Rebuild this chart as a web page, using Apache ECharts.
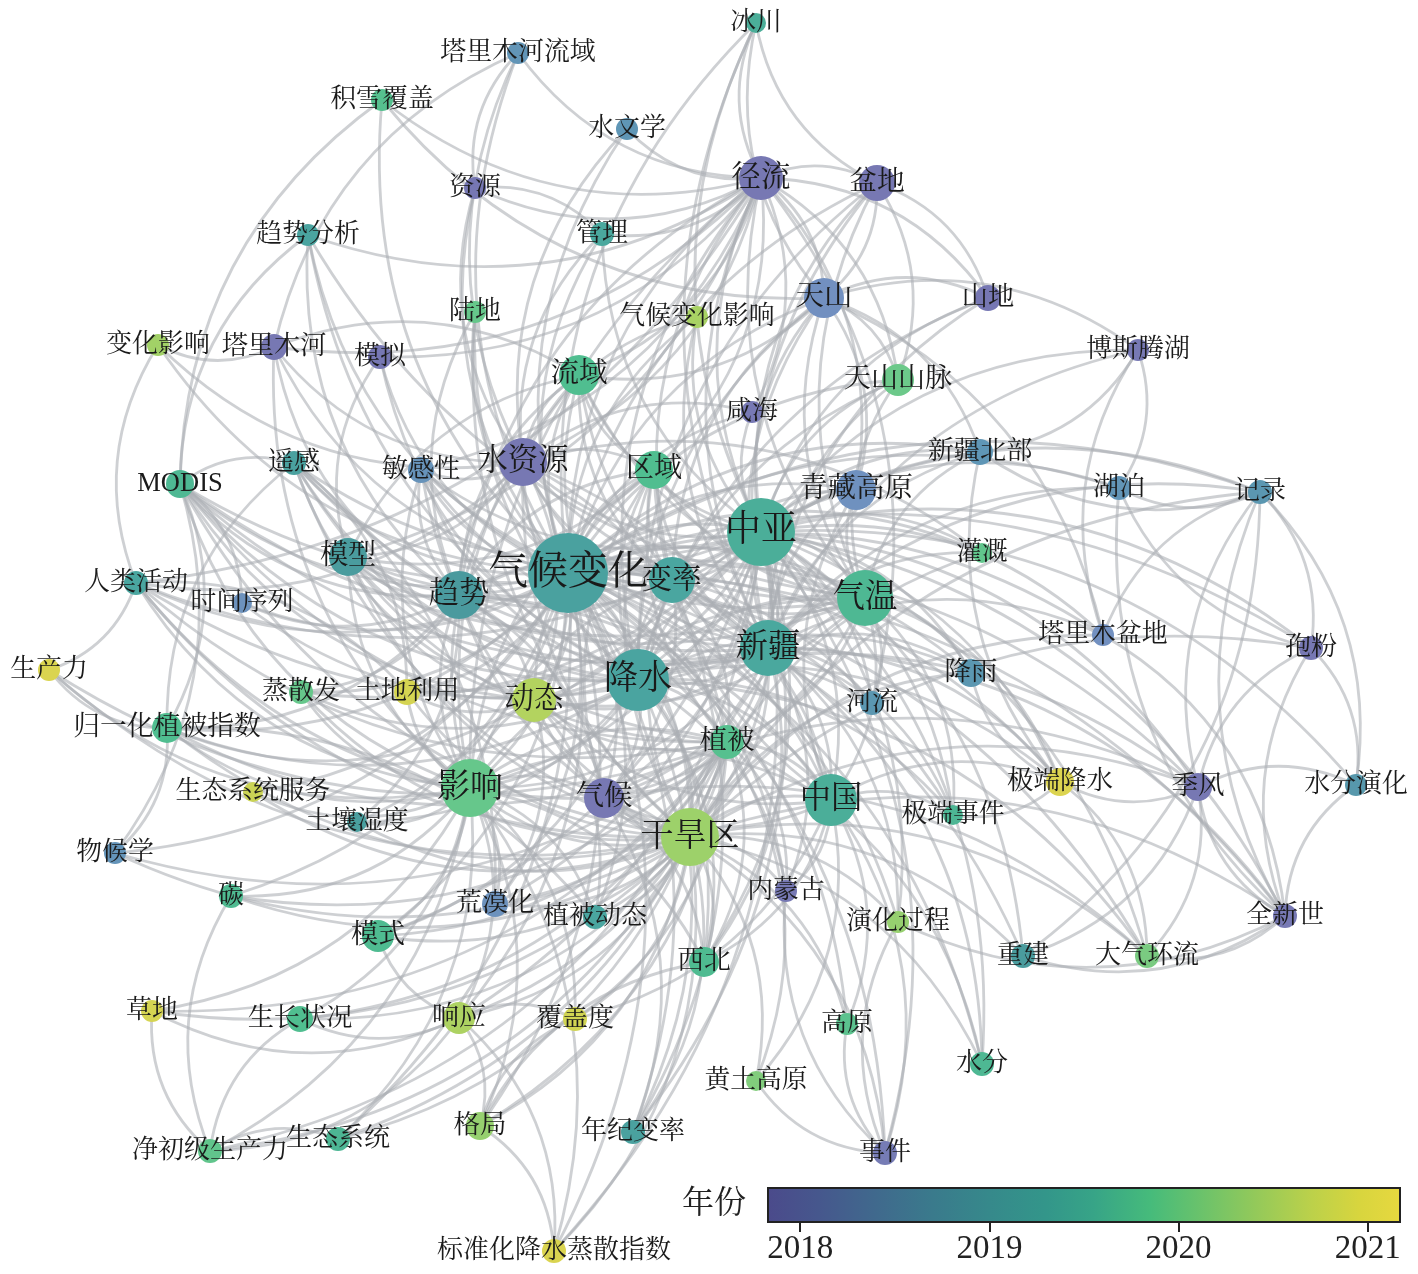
<!DOCTYPE html>
<html><head><meta charset="utf-8">
<script src="https://cdn.jsdelivr.net/npm/echarts@6.0.0/dist/echarts.min.js"></script>
<style>html,body{margin:0;padding:0;background:#fff}#c{width:1418px;height:1274px}</style>
</head><body><div id="c"></div>
<script>
// ---------------- data ----------------
const nodeNames = ['冰川','塔里木河流域','积雪覆盖','水文学','径流','盆地','资源','管理','趋势分析','天山',
 '山地','陆地','气候变化影响','变化影响','塔里木河','模拟','博斯腾湖','流域','天山山脉','咸海',
 '新疆北部','水资源','区域','遥感','敏感性','MODIS','湖泊','记录','青藏高原','中亚',
 '灌溉','模型','气候变化','变率','人类活动','时间序列','趋势','气温','生产力','新疆',
 '塔里木盆地','孢粉','降雨','蒸散发','土地利用','动态','降水','河流','归一化植被指数','植被',
 '影响','生态系统服务','气候','中国','极端降水','季风','水分演化','极端事件','土壤湿度','物候学',
 '干旱区','内蒙古','碳','荒漠化','植被动态','全新世','模式','演化过程','西北','重建',
 '大气环流','草地','生长状况','响应','覆盖度','高原','水分','黄土高原','格局','净初级生产力',
 '生态系统','年纪变率','事件','标准化降水蒸散指数'];
// average year of appearance
const nodeYear = [2019.45,2018.7,2019.8,2018.75,2017.95,2017.95,2017.9,2019.3,2019.2,2018.4,
 2017.9,2019.95,2020.45,2020.4,2017.95,2017.9,2018.0,2019.75,2020.0,2018.0,
 2018.75,2017.95,2019.75,2019.15,2018.6,2019.65,2018.7,2018.8,2018.45,2019.45,
 2019.9,2019.05,2019.15,2019.25,2019.25,2018.5,2019.0,2019.65,2020.95,2019.3,
 2018.4,2017.95,2018.8,2019.95,2020.9,2020.55,2019.2,2018.8,2019.75,2019.8,
 2019.95,2020.8,2017.95,2019.45,2021.0,2017.95,2018.85,2019.6,2019.1,2018.65,
 2020.35,2018.0,2019.7,2018.5,2019.25,2018.0,2019.7,2020.3,2019.7,2019.05,
 2020.1,2020.9,2019.75,2020.5,2020.85,2019.85,2019.65,2020.15,2020.3,2019.9,
 2019.6,2019.15,2018.05,2020.95];
// relative weight (frequency) of each keyword
const nodeWeight = [10,11,11,11,22,18,11,12,11,20,
 13,11,11,11,13,12,11,20,16,11,
 13,24,19,12,13,14,12,12,20,34,
 10,19,40,23,12,10,24,28,11,28,
 11,12,14,12,13,22,31,12,15,17,
 29,10,20,26,14,14,11,10,10,11,
 29,11,12,13,12,12,16,11,15,12,
 12,11,13,16,12,11,12,10,14,12,
 12,12,12,12];
// network layout coordinates (layout space 1418 x 1274)
const layoutX = [756,518,382,627,761,877,475,602,308,824,
 988,475,697,158,274,380,1138,579,898,752,
 980,523,654,294,421,180,1119,1260,856,761,
 982,348,568,672,136,242,459,865,49,768,
 1103,1311,971,301,407,534,638,872,167,727,
 470,253,604,831,1060,1198,1356,953,357,115,
 690,786,231,495,595,1285,378,898,704,1023,
 1147,152,300,459,575,847,982,756,480,210,
 338,633,885,554];
const layoutY = [23,53,100,129,178,183,188,234,235,298,
 298,312,317,345,347,357,350,375,380,412,
 452,462,470,463,470,484,488,492,490,532,
 553,557,573,580,583,603,595,598,670,648,
 635,648,673,692,692,700,680,703,728,742,
 788,792,798,800,782,787,785,815,822,853,
 837,891,896,904,917,916,936,922,962,956,
 956,1011,1019,1018,1019,1024,1064,1081,1126,1151,
 1139,1132,1153,1251];
// co-occurrence links: first name linked with each following name
const adjacency = [
 '气候变化 中亚 新疆 降水 干旱区 影响 趋势 气温 变率 水资源 径流 区域 流域 模型 动态 植被 中国 气候 天山 青藏高原 盆地 敏感性 遥感 MODIS 人类活动 时间序列 模拟 陆地 资源 管理 水文学 塔里木河 塔里木河流域 变化影响 冰川 积雪覆盖 趋势分析 气候变化影响 咸海 天山山脉 新疆北部 湖泊 记录 灌溉 河流 降雨 塔里木盆地 孢粉 季风 全新世 极端降水 极端事件 土地利用 蒸散发 土壤湿度 归一化植被指数 生态系统服务 物候学 荒漠化 植被动态 模式 西北 内蒙古 生态系统 年纪变率 高原 事件 大气环流 重建 演化过程 水分 标准化降水蒸散指数 响应 格局 碳',
 '中亚 新疆 降水 干旱区 气温 影响 趋势 变率 水资源 径流 区域 天山 青藏高原 盆地 气候 中国 植被 动态 咸海 灌溉 湖泊 记录 孢粉 季风 全新世 大气环流 重建 极端降水 极端事件 降雨 河流 塔里木盆地 新疆北部 山地 天山山脉 冰川 气候变化影响 管理 敏感性 模型 遥感 MODIS 荒漠化 模式 演化过程 事件 水分 年纪变率 标准化降水蒸散指数 响应 西北 水分演化 博斯腾湖 流域 人类活动 土地利用 蒸散发',
 '新疆 降水 气温 干旱区 影响 趋势 变率 径流 天山 盆地 中国 植被 动态 区域 流域 新疆北部 降雨 河流 塔里木盆地 极端降水 极端事件 博斯腾湖 湖泊 天山山脉 冰川 气候变化影响 水资源 内蒙古 西北 演化过程 水分 记录 全新世 灌溉 山地 青藏高原 气候 MODIS 遥感 敏感性 人类活动 模型',
 '降水 气温 干旱区 影响 趋势 变率 径流 区域 流域 植被 动态 中国 气候 西北 极端降水 极端事件 降雨 新疆北部 天山 盆地 山地 青藏高原 大气环流 季风 年纪变率 土壤湿度 蒸散发 时间序列 模拟 陆地 敏感性 模型 趋势分析 内蒙古 模式 河流 归一化植被指数 天山山脉 水资源 MODIS 遥感',
 '干旱区 影响 气温 趋势 植被 动态 中国 气候 西北 响应 格局 覆盖度 标准化降水蒸散指数 生长状况 净初级生产力 生态系统 碳 荒漠化 植被动态 模式 物候学 生态系统服务 土地利用 蒸散发 土壤湿度 归一化植被指数 生产力 人类活动 MODIS 遥感 内蒙古 黄土高原 事件 演化过程 高原 水分 年纪变率 全新世 孢粉 记录 季风 大气环流 重建 塔里木盆地 降雨 灌溉 水资源 区域 陆地 草地 变率 模型 敏感性',
 '影响 趋势 植被 动态 气候 中国 响应 格局 覆盖度 生长状况 净初级生产力 生态系统 碳 荒漠化 植被动态 模式 土地利用 生态系统服务 人类活动 蒸散发 土壤湿度 归一化植被指数 生产力 草地 水资源 塔里木河 模型 径流 西北 标准化降水蒸散指数 气温 变率 区域 流域 MODIS 敏感性',
 '趋势 气温 变率 径流 流域 时间序列 趋势分析 敏感性 土壤湿度 蒸散发 归一化植被指数 陆地 塔里木河 MODIS 植被 动态 区域 模型 水资源 气候 中国',
 '气温 变率 径流 天山 盆地 青藏高原 区域 流域 中国 极端降水 极端事件 降雨 新疆北部 天山山脉 趋势分析 敏感性 植被 河流 动态 气候 模型 水资源 MODIS',
 '变率 径流 天山 中国 区域 年纪变率 动态 植被 气候 流域 水资源 青藏高原',
 '径流 冰川 盆地 天山 水资源 流域 塔里木河 塔里木河流域 资源 水文学 管理 模拟 咸海 天山山脉 敏感性 模型 人类活动 积雪覆盖 趋势分析 河流 山地 区域 青藏高原',
 '盆地 冰川 天山 天山山脉 山地',
 '天山 冰川 天山山脉 山地 博斯腾湖 积雪覆盖 新疆北部 流域 青藏高原 塔里木盆地',
 '水资源 资源 管理 塔里木河流域 塔里木河 咸海 灌溉 水文学 变化影响 区域 敏感性 模型 气候变化影响 动态 植被 中国 流域 人类活动',
 '植被 动态 中国 响应 格局 覆盖度 生长状况 净初级生产力 生态系统 碳 荒漠化 植被动态 模式 归一化植被指数 MODIS 遥感 内蒙古 黄土高原 西北 水分 物候学 草地 生产力 人类活动 气候 区域 模型',
 '中国 西北 内蒙古 黄土高原 高原 事件 极端事件 极端降水 覆盖度 气候 动态 区域 青藏高原',
 '动态 气候 区域 土地利用 荒漠化 植被动态 遥感 归一化植被指数 模型 MODIS',
 '气候 西北 年纪变率 季风 大气环流 区域 人类活动',
 '区域 流域 模型',
 '模型 模拟 流域',
 '遥感 土地利用 荒漠化',
 '全新世 记录 孢粉 季风 水分演化 大气环流 重建 湖泊 演化过程',
 '季风 记录 孢粉 水分演化 大气环流 极端降水 重建',
 '记录 孢粉 湖泊 重建 水分演化 新疆北部',
 '孢粉 湖泊 水分演化',
 '塔里木盆地 博斯腾湖 全新世 记录',
 '极端降水 新疆北部 降雨 极端事件 大气环流',
 '响应 格局 覆盖度 标准化降水蒸散指数 生长状况 净初级生产力 模式 草地',
 '格局 标准化降水蒸散指数 西北 覆盖度',
 '净初级生产力 草地 生长状况 生态系统 碳',
 'MODIS 遥感 归一化植被指数 时间序列 物候学 积雪覆盖 趋势分析',
 '归一化植被指数 物候学 生产力 遥感 植被动态',
 '人类活动 生产力 变化影响 土地利用',
 '塔里木河 变化影响 塔里木河流域 流域',
 '事件 高原 演化过程 黄土高原 内蒙古',
 '博斯腾湖 湖泊 新疆北部',
 '资源 塔里木河流域 管理'
];
const yearTicks = [2018, 2019, 2020, 2021];
const yearRange = [2017.83, 2021.17];
const legendTitle = '年份';

// ---------------- styles ----------------
const CJK = "'Liberation Serif','Noto Serif CJK SC','Noto Sans CJK SC',serif";
const barStops = [[2017.83,'#4b4a8b'],[2018.1,'#46578d'],[2018.4,'#40698d'],[2018.7,'#3a7a8c'],
 [2019.0,'#36898b'],[2019.3,'#33968a'],[2019.55,'#37a487'],[2019.85,'#46bb7b'],[2020.1,'#68c26c'],
 [2020.4,'#93c95a'],[2020.7,'#bcd14a'],[2020.95,'#d8d53e'],[2021.17,'#e7d83f']];
const nodeStops = [[2017.83,'#7676b2'],[2018.0,'#7779b4'],[2018.4,'#7290c0'],[2018.75,'#5f96b6'],
 [2019.0,'#4a9a9e'],[2019.25,'#4aa6a0'],[2019.5,'#4bb097'],[2019.75,'#50be90'],[2020.0,'#6cc98a'],
 [2020.35,'#9dd16a'],[2020.6,'#b8d35c'],[2020.95,'#dad450'],[2021.17,'#e2d650']];

function hex2rgb(h){h=h.replace('#','');return [0,2,4].map(i=>parseInt(h.substr(i,2),16));}
function cmap(stops, v){
  if (v <= stops[0][0]) return stops[0][1];
  for (let i=1;i<stops.length;i++){
    if (v <= stops[i][0]){
      const t=(v-stops[i-1][0])/(stops[i][0]-stops[i-1][0]);
      const a=hex2rgb(stops[i-1][1]), b=hex2rgb(stops[i][1]);
      const c=a.map((x,k)=>Math.round(x+(b[k]-x)*t));
      return 'rgb('+c.join(',')+')';
    }
  }
  return stops[stops.length-1][1];
}
function fontFor(w){ return 25.8 + 14.2*Math.pow(Math.max(0,(w-10)/30),1.5); }

// ---------------- build ----------------
const nodes = nodeNames.map((n,i)=>({
  name:n, value:[layoutX[i], layoutY[i]],
  symbolSize: nodeWeight[i]*2,
  itemStyle:{color:cmap(nodeStops,nodeYear[i])},
  label:{fontSize: Math.round(fontFor(nodeWeight[i])*10)/10}
}));
const nameSet = new Set(nodeNames);
const seen = new Set(); const links = [];
adjacency.forEach(line=>{
  const parts=line.trim().split(/\s+/); const s=parts[0];
  parts.slice(1).forEach(t=>{
    if(!nameSet.has(s)||!nameSet.has(t)||s===t) return;
    const k = s<t ? s+'|'+t : t+'|'+s;
    if(seen.has(k)) return; seen.add(k);
    links.push({source:s,target:t});
  });
});

const gradStops = barStops.map(s=>({offset:(s[0]-yearRange[0])/(yearRange[1]-yearRange[0]), color:s[1]}));

const chart = echarts.init(document.getElementById('c'), null, {renderer:'canvas'});
chart.setOption({
  animation:false,
  backgroundColor:'#ffffff',
  grid:[
    {left:0,right:0,top:0,bottom:0},
    {left:768,top:1188,width:632,height:34}
  ],
  xAxis:[
    {type:'value',min:0,max:1418,show:false,gridIndex:0},
    {type:'value',gridIndex:1,min:yearRange[0],max:yearRange[1],
     axisLine:{show:false},splitLine:{show:false},
     axisTick:{show:true,customValues:yearTicks,length:10,lineStyle:{color:'#222',width:2}},
     axisLabel:{customValues:yearTicks,formatter:v=>String(Math.round(v)),fontSize:33,fontFamily:"'Liberation Serif',serif",color:'#222',margin:11}}
  ],
  yAxis:[
    {type:'value',min:0,max:1274,inverse:true,show:false,gridIndex:0},
    {type:'category',gridIndex:1,data:[legendTitle],axisLine:{show:false},axisTick:{show:false},
     axisLabel:{fontSize:32,fontFamily:CJK,color:'#222',margin:22}}
  ],
  series:[
    {
      type:'graph', coordinateSystem:'cartesian2d', xAxisIndex:0, yAxisIndex:0, layout:'none',
      data:nodes, links:links, silent:true,
      symbol:'circle',
      lineStyle:{color:'#abaeb4',width:2.8,opacity:0.58,curveness:0.25},
      label:{show:true,position:'inside',color:'#1a1a1a',fontFamily:CJK},
      emphasis:{disabled:true}
    },
    {
      type:'custom', xAxisIndex:1, yAxisIndex:1, silent:true,
      data:[[yearRange[0], yearRange[1], 0]],
      encode:{x:[0,1], y:2},
      renderItem:function(params, api){
        const p0 = api.coord([api.value(0), 0]);
        const p1 = api.coord([api.value(1), 0]);
        const h = api.size([0,1])[1];
        return {type:'rect', shape:{x:p0[0], y:p0[1]-h/2, width:p1[0]-p0[0], height:h},
          style:{fill:new echarts.graphic.LinearGradient(0,0,1,0,gradStops), stroke:'#222', lineWidth:2}};
      }
    }
  ]
});
</script></body></html>
